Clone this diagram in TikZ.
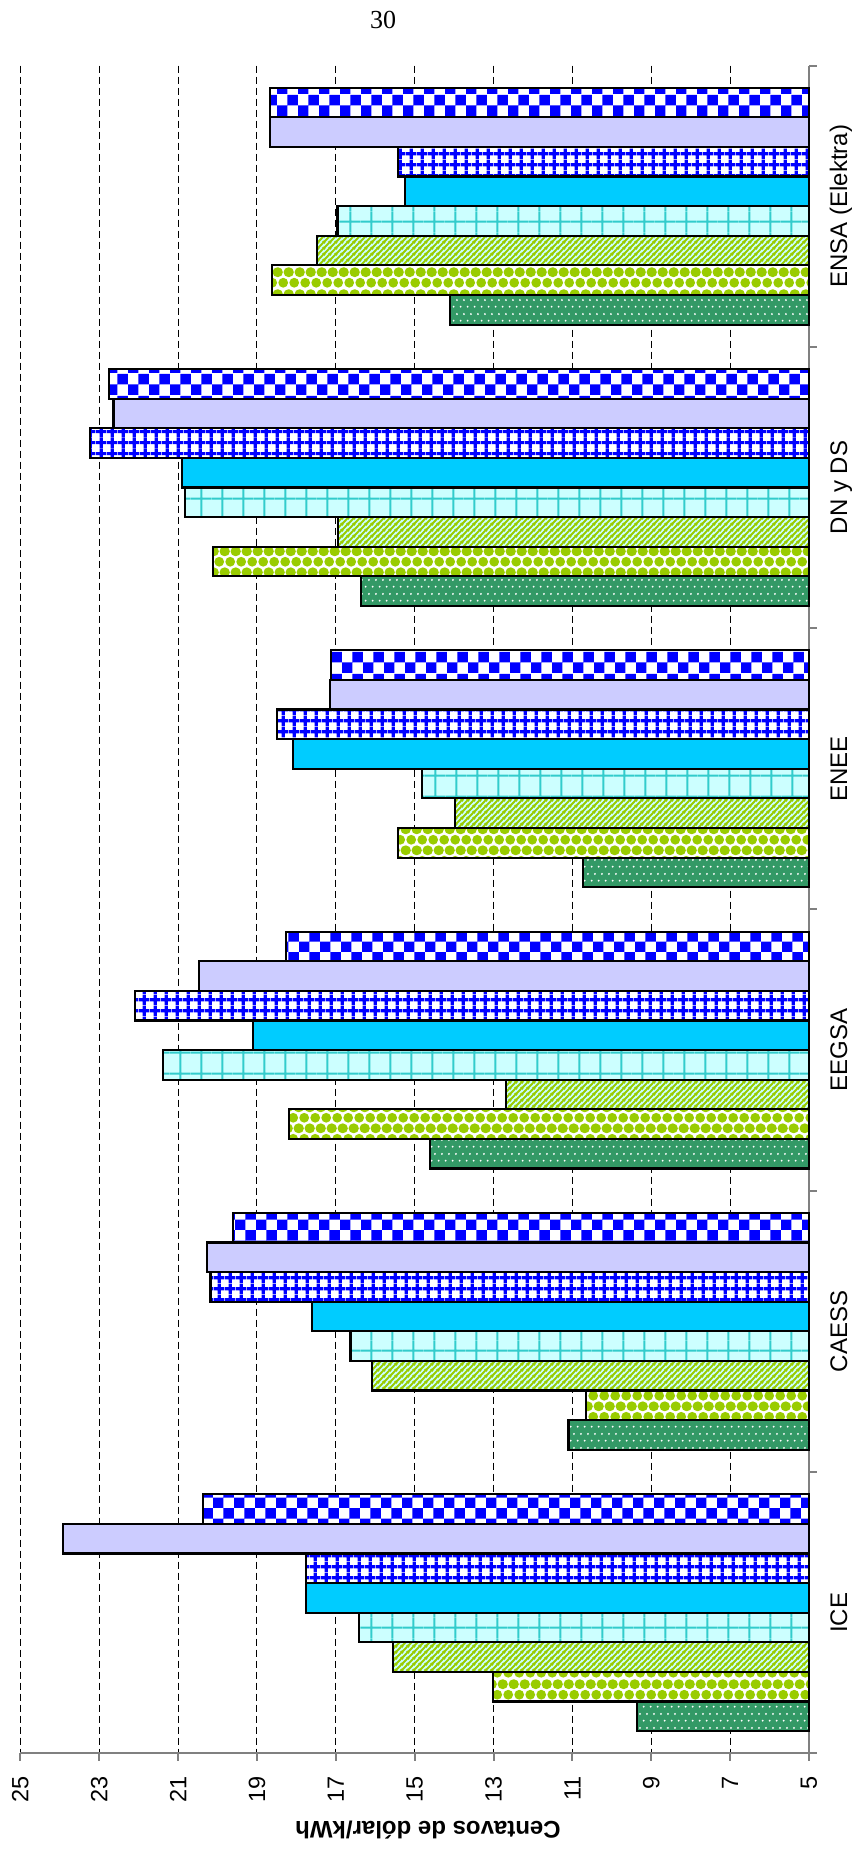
\documentclass[tikz,border=0pt]{standalone}
\usepackage{fontspec}
\setmainfont{Liberation Serif}
\setsansfont{Liberation Sans}
\usepackage{xcolor}
\usetikzlibrary{patterns}

\definecolor{seagreen}{HTML}{339966}
\definecolor{ygreen}{HTML}{99CC00}
\definecolor{paleturq}{HTML}{CCFFFF}
\definecolor{turq}{HTML}{33CCCC}
\definecolor{skyblue}{HTML}{00CCFF}
\definecolor{lavend}{HTML}{CCCCFF}
\definecolor{axisgray}{HTML}{808080}

% hatchings of the eight series
\pgfdeclarepatternformonly{dotfill}{\pgfpointorigin}{\pgfqpoint{7.3pt}{14pt}}{\pgfqpoint{7.3pt}{14pt}}{
  \pgfpathcircle{\pgfqpoint{1.8pt}{3.5pt}}{1.1pt}
  \pgfpathcircle{\pgfqpoint{5.45pt}{10.5pt}}{1.1pt}
  \pgfusepath{fill}}
\pgfdeclarepatternformonly{ballfill}{\pgfpointorigin}{\pgfqpoint{10.7pt}{21.4pt}}{\pgfqpoint{10.7pt}{21.4pt}}{
  \pgfpathcircle{\pgfqpoint{5.35pt}{5.35pt}}{5pt}
  \pgfpathcircle{\pgfqpoint{0pt}{16.05pt}}{5pt}
  \pgfpathcircle{\pgfqpoint{10.7pt}{16.05pt}}{5pt}
  \pgfusepath{fill}}
\pgfdeclarepatternformonly{diagfill}{\pgfpointorigin}{\pgfqpoint{6pt}{6pt}}{\pgfqpoint{6pt}{6pt}}{
  \pgfsetlinewidth{2.2pt}
  \pgfpathmoveto{\pgfqpoint{-1pt}{-1pt}}\pgfpathlineto{\pgfqpoint{7pt}{7pt}}
  \pgfpathmoveto{\pgfqpoint{-1pt}{5pt}}\pgfpathlineto{\pgfqpoint{1pt}{7pt}}
  \pgfpathmoveto{\pgfqpoint{5pt}{-1pt}}\pgfpathlineto{\pgfqpoint{7pt}{1pt}}
  \pgfusepath{stroke}}
\pgfdeclarepatternformonly{widegridfill}{\pgfpointorigin}{\pgfqpoint{21.3pt}{21.3pt}}{\pgfqpoint{21.3pt}{21.3pt}}{
  \pgfsetlinewidth{2pt}
  \pgfpathmoveto{\pgfqpoint{0pt}{10.65pt}}\pgfpathlineto{\pgfqpoint{21.3pt}{10.65pt}}
  \pgfpathmoveto{\pgfqpoint{10.65pt}{0pt}}\pgfpathlineto{\pgfqpoint{10.65pt}{21.3pt}}
  \pgfusepath{stroke}}
\pgfdeclarepatternformonly{smallgridfill}{\pgfpointorigin}{\pgfqpoint{10.7pt}{10.7pt}}{\pgfqpoint{10.7pt}{10.7pt}}{
  \pgfsetlinewidth{3.2pt}
  \pgfpathmoveto{\pgfqpoint{0pt}{5.35pt}}\pgfpathlineto{\pgfqpoint{10.7pt}{5.35pt}}
  \pgfpathmoveto{\pgfqpoint{5.35pt}{0pt}}\pgfpathlineto{\pgfqpoint{5.35pt}{10.7pt}}
  \pgfusepath{stroke}}
\pgfdeclarepatternformonly{checkfill}{\pgfpointorigin}{\pgfqpoint{21.4pt}{21.4pt}}{\pgfqpoint{21.4pt}{21.4pt}}{
  \pgfpathrectangle{\pgfpointorigin}{\pgfqpoint{10.7pt}{10.7pt}}
  \pgfpathrectangle{\pgfqpoint{10.7pt}{10.7pt}}{\pgfqpoint{10.7pt}{10.7pt}}
  \pgfusepath{fill}}

\tikzset{
  bar/.style = {draw = black, line width = 2.2pt},
  ser1/.style = {bar, preaction = {fill = seagreen}, pattern = dotfill, pattern color = white},
  ser2/.style = {bar, preaction = {fill = white}, pattern = ballfill, pattern color = ygreen},
  ser3/.style = {bar, preaction = {fill = paleturq}, pattern = diagfill, pattern color = ygreen},
  ser4/.style = {bar, preaction = {fill = paleturq}, pattern = widegridfill, pattern color = turq},
  ser5/.style = {bar, fill = skyblue},
  ser6/.style = {bar, preaction = {fill = white}, pattern = smallgridfill, pattern color = blue},
  ser7/.style = {bar, fill = lavend},
  ser8/.style = {bar, preaction = {fill = white}, pattern = checkfill, pattern color = blue},
  gridline/.style = {black, line width = 1pt, dash pattern = on 7pt off 4pt},
  axisline/.style = {axisgray, line width = 2pt},
  ticklab/.style = {font = \sffamily\fontsize{23.5}{28}\selectfont, rotate = 90, anchor = east, inner sep = 0},
  catlab/.style = {font = \sffamily\fontsize{24}{28}\selectfont, rotate = 90, anchor = base, inner sep = 0}
}

\begin{document}
\begin{tikzpicture}[x = 1pt, y = -1pt]
  \useasboundingbox (0, 0) rectangle (861, 1850);
  \node[font = \rmfamily\fontsize{26}{30}\selectfont] (pagenum) at (383, 20) {30};
  % value grid, 5 is the category axis
  \foreach \v in {7, 9, ..., 25}
    \draw[gridline] ({809 - 39.43*(\v - 5)}, 65.5) -- ({809 - 39.43*(\v - 5)}, 1753.3);
  \draw[axisline] (20.4, 1753.3) -- (817, 1753.3);
  \draw[axisline] (809, 65.5) -- (809, 1761.3);
  \foreach \v in {5, 7, ..., 25} {
    \draw[axisline] ({809 - 39.43*(\v - 5)}, 1753.3) -- ({809 - 39.43*(\v - 5)}, 1761.3);
    \node[ticklab] (tick\v) at ({809 - 39.43*(\v - 5)}, 1776) {\v};
  }
  \foreach \k in {1, ..., 6}
    \draw[axisline] (809, {1753.3 - 281.3*\k}) -- (817, {1753.3 - 281.3*\k});
  % bars, one list per company, series from bottom to top
  \foreach \vals [count = \k from 0] in {
      {9.36, 13.02, 15.56, 16.42, 17.76, 17.76, 23.91, 20.36},
      {11.10, 10.66, 16.09, 16.63, 17.60, 20.18, 20.26, 19.60},
      {14.61, 18.18, 12.69, 21.38, 19.10, 22.10, 20.48, 18.27},
      {10.73, 15.42, 13.97, 14.81, 18.08, 18.50, 17.14, 17.12},
      {16.37, 20.11, 16.94, 20.83, 20.91, 23.23, 22.64, 22.76},
      {14.11, 18.62, 17.47, 16.96, 15.24, 15.42, 18.66, 18.66}} {
    \foreach \v [count = \s] in \vals {
      \pgfmathsetmacro\yb{1753.3 - 281.3*\k - 22.2 - 29.61*(\s - 1)}
      \draw[ser\s] ({809 - 39.43*(\v - 5)}, \yb) rectangle (809, \yb - 29.61);
    }
  }
  \foreach \name [count = \k from 0] in {ICE, CAESS, EEGSA, ENEE, DN y DS, ENSA (Elektra)}
    \node[catlab] (cat\k) at (847, {1753.3 - 281.3*(\k + 0.5)}) {\name};
  \node[font = \sffamily\bfseries\fontsize{24}{28}\selectfont, rotate = 180] (vtitle) at (428, 1830) {Centavos de dólar/kWh};
\end{tikzpicture}
\end{document}
